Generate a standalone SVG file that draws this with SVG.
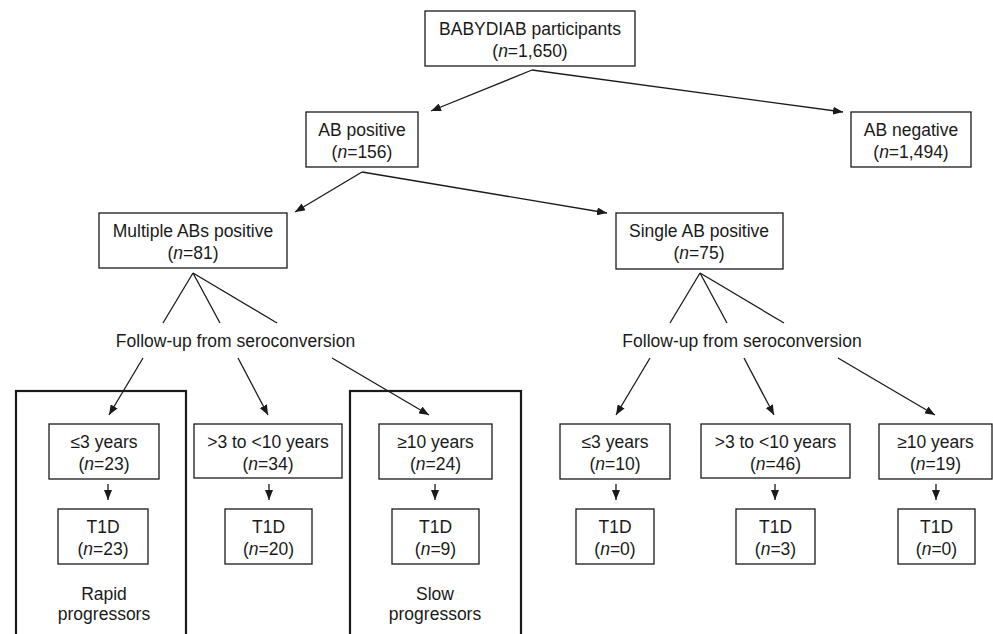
<svg xmlns="http://www.w3.org/2000/svg" width="993" height="634" viewBox="0 0 993 634">
<defs>
<marker id="ah" markerUnits="userSpaceOnUse" markerWidth="11" markerHeight="8" refX="10" refY="4" orient="auto">
<path d="M0,0 L10,4 L0,8 z" fill="#1a1a1a"/>
</marker>
<style>
.box{fill:#fff;stroke:#1a1a1a;stroke-width:1.3}
.outer{fill:none;stroke:#1a1a1a;stroke-width:2.2}
text{font-family:"Liberation Sans",Arial,sans-serif;font-size:17.5px;fill:#1a1a1a;text-anchor:middle}
.i{font-style:italic}
.c{fill:none;stroke:#1a1a1a;stroke-width:1.3}
.a{fill:none;stroke:#1a1a1a;stroke-width:1.3;marker-end:url(#ah)}
</style>
</defs>
<rect width="993" height="634" fill="#fff"/>
<g id="group-rapid"><rect class="outer" x="16" y="391" width="170" height="260"/><text x="104" y="600">Rapid</text><text x="104" y="620">progressors</text></g>
<g id="group-slow"><rect class="outer" x="350" y="391" width="171" height="260"/><text x="435" y="600">Slow</text><text x="435" y="620">progressors</text></g>
<g id="connectors">
<line class="a" x1="532" y1="70" x2="431" y2="111"/>
<line class="a" x1="532" y1="70" x2="843" y2="112"/>
<line class="a" x1="362" y1="172" x2="295" y2="212"/>
<line class="a" x1="362" y1="172" x2="607" y2="213"/>
<line class="c" x1="193" y1="273" x2="163" y2="323"/>
<line class="c" x1="193" y1="273" x2="220" y2="323"/>
<line class="c" x1="193" y1="273" x2="277" y2="323"/>
<line class="a" x1="143" y1="358" x2="109" y2="415"/>
<line class="a" x1="238" y1="358" x2="268" y2="415"/>
<line class="a" x1="332" y1="358" x2="429" y2="415"/>
<line class="c" x1="700" y1="273" x2="670" y2="323"/>
<line class="c" x1="700" y1="273" x2="727" y2="323"/>
<line class="c" x1="700" y1="273" x2="784" y2="323"/>
<line class="a" x1="650" y1="358" x2="616" y2="415"/>
<line class="a" x1="744" y1="358" x2="774" y2="415"/>
<line class="a" x1="838" y1="358" x2="935" y2="415"/>
<line class="a" x1="108" y1="484" x2="108" y2="500"/>
<line class="a" x1="269" y1="484" x2="269" y2="500"/>
<line class="a" x1="435" y1="484" x2="435" y2="500"/>
<line class="a" x1="616" y1="484" x2="616" y2="500"/>
<line class="a" x1="775" y1="484" x2="775" y2="500"/>
<line class="a" x1="936" y1="484" x2="936" y2="500"/>
</g>
<g id="babydiab"><rect class="box" x="425" y="11" width="210" height="55"/><text x="530" y="35">BABYDIAB participants</text><text x="530" y="57">(<tspan class="i">n</tspan>=1,650)</text></g>
<g id="ab-positive"><rect class="box" x="306" y="112" width="112" height="55"/><text x="362" y="136">AB positive</text><text x="362" y="158">(<tspan class="i">n</tspan>=156)</text></g>
<g id="ab-negative"><rect class="box" x="851" y="112" width="120" height="55"/><text x="911" y="136">AB negative</text><text x="911" y="158">(<tspan class="i">n</tspan>=1,494)</text></g>
<g id="multiple"><rect class="box" x="99" y="213" width="188" height="55"/><text x="193" y="237">Multiple ABs positive</text><text x="193" y="259">(<tspan class="i">n</tspan>=81)</text></g>
<g id="single"><rect class="box" x="616" y="213" width="167" height="56"/><text x="699" y="237">Single AB positive</text><text x="699" y="259">(<tspan class="i">n</tspan>=75)</text></g>
<g id="followup-left"><text x="235.5" y="347">Follow-up from seroconversion</text></g>
<g id="followup-right"><text x="742" y="347">Follow-up from seroconversion</text></g>
<g id="m-le3"><rect class="box" x="49" y="424" width="110" height="55"/><text x="104" y="448">≤3 years</text><text x="104" y="470">(<tspan class="i">n</tspan>=23)</text></g>
<g id="m-3to10"><rect class="box" x="194" y="424" width="148" height="54"/><text x="268" y="448">&gt;3 to &lt;10 years</text><text x="268" y="470">(<tspan class="i">n</tspan>=34)</text></g>
<g id="m-ge10"><rect class="box" x="379" y="424" width="113" height="55"/><text x="435.5" y="448">≥10 years</text><text x="435.5" y="470">(<tspan class="i">n</tspan>=24)</text></g>
<g id="m-t1d-1"><rect class="box" x="58" y="509" width="90" height="55"/><text x="103" y="533">T1D</text><text x="103" y="555">(<tspan class="i">n</tspan>=23)</text></g>
<g id="m-t1d-2"><rect class="box" x="225" y="509" width="87" height="55"/><text x="268.5" y="533">T1D</text><text x="268.5" y="555">(<tspan class="i">n</tspan>=20)</text></g>
<g id="m-t1d-3"><rect class="box" x="392" y="509" width="87" height="55"/><text x="435.5" y="533">T1D</text><text x="435.5" y="555">(<tspan class="i">n</tspan>=9)</text></g>
<g id="s-le3"><rect class="box" x="560" y="424" width="110" height="55"/><text x="615" y="448">≤3 years</text><text x="615" y="470">(<tspan class="i">n</tspan>=10)</text></g>
<g id="s-3to10"><rect class="box" x="701" y="424" width="149" height="54"/><text x="775.5" y="448">&gt;3 to &lt;10 years</text><text x="775.5" y="470">(<tspan class="i">n</tspan>=46)</text></g>
<g id="s-ge10"><rect class="box" x="879" y="424" width="113" height="55"/><text x="935.5" y="448">≥10 years</text><text x="935.5" y="470">(<tspan class="i">n</tspan>=19)</text></g>
<g id="s-t1d-1"><rect class="box" x="576" y="509" width="78" height="55"/><text x="615" y="533">T1D</text><text x="615" y="555">(<tspan class="i">n</tspan>=0)</text></g>
<g id="s-t1d-2"><rect class="box" x="736" y="509" width="79" height="55"/><text x="775.5" y="533">T1D</text><text x="775.5" y="555">(<tspan class="i">n</tspan>=3)</text></g>
<g id="s-t1d-3"><rect class="box" x="898" y="509" width="77" height="55"/><text x="936.5" y="533">T1D</text><text x="936.5" y="555">(<tspan class="i">n</tspan>=0)</text></g>
</svg>
